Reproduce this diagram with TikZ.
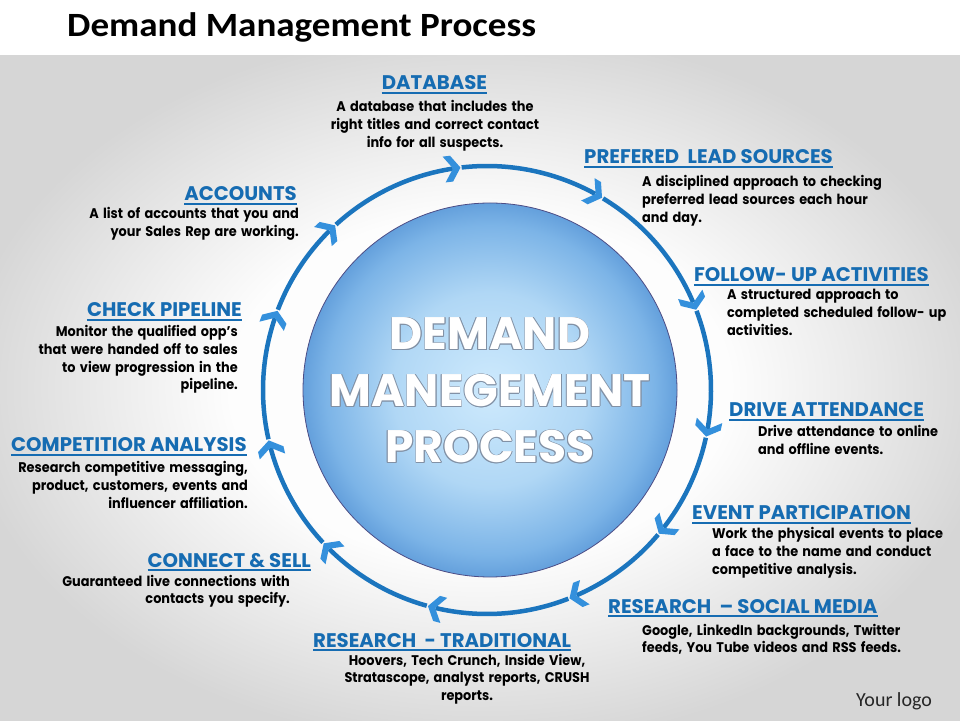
\documentclass[tikz,border=0pt]{standalone}
\usepackage{fontspec}
\setmainfont{Poppins}
\newfontfamily\titlefont{Carlito}
\usetikzlibrary{arrows.meta}
\definecolor{headblue}{RGB}{22,108,178}
\definecolor{ringblue}{RGB}{27,117,190}
\definecolor{chevblue}{RGB}{52,144,220}
\definecolor{bgouter}{RGB}{214,214,214}
\definecolor{bginner}{RGB}{253,253,253}
\definecolor{sphin}{RGB}{206,234,253}
\definecolor{sphmid}{RGB}{176,215,245}
\definecolor{sphedge}{RGB}{124,180,231}
\definecolor{sphrim}{RGB}{100,160,220}
\definecolor{olgray}{RGB}{130,145,165}
\pgfdeclareradialshading{bgshade}{\pgfpoint{0bp}{0bp}}{color(0bp)=(bginner); color(13bp)=(bginner); color(27bp)=(bgouter); color(50bp)=(bgouter)}
\pgfdeclareradialshading{sphshade}{\pgfpoint{0bp}{0bp}}{color(0bp)=(sphin); color(13bp)=(sphmid); color(22bp)=(sphedge); color(25bp)=(sphrim); color(50bp)=(sphrim)}
\newcommand\outl[1]{%
\makebox[0pt][l]{\color{olgray}\kern0.8pt#1}%
\makebox[0pt][l]{\color{olgray}\kern-0.8pt#1}%
\makebox[0pt][l]{\color{olgray}\raisebox{0.8pt}{#1}}%
\makebox[0pt][l]{\color{olgray}\raisebox{-0.8pt}{#1}}%
\makebox[0pt][l]{\color{olgray}\kern0.6pt\raisebox{0.6pt}{#1}}%
\makebox[0pt][l]{\color{olgray}\kern-0.6pt\raisebox{0.6pt}{#1}}%
\makebox[0pt][l]{\color{olgray}\kern0.6pt\raisebox{-0.6pt}{#1}}%
\makebox[0pt][l]{\color{olgray}\kern-0.6pt\raisebox{-0.6pt}{#1}}%
{\color{white}#1}}
\begin{document}
\begin{tikzpicture}[x=1pt,y=1pt,
 head/.style={font=\fontsize{19.7}{22}\selectfont\bfseries, text=headblue, inner sep=0pt},
 body/.style={font=\fontsize{14}{17.6}\selectfont\bfseries, text=black, inner sep=0pt, text width=330pt, xscale=0.92, transform shape},
 bodyl/.style={body, align=left, anchor=base west},
 bodyr/.style={body, align=right, anchor=base east},
 bodyc/.style={body, align=center, anchor=base},
 ul/.style={headblue, line width=1.4pt},
 ringseg/.style={ringblue, line width=4.5pt},
 chevron/.style={fill=chevblue},
 big/.style={font=\fontsize{45.5}{50}\selectfont\bfseries, inner sep=0pt, anchor=base}
]
\useasboundingbox (0,0) rectangle (960,720);
\shade[shading=bgshade] (0,0) rectangle (960,665);
\fill[white] (0,665) rectangle (960,720);
\node[font=\titlefont\fontsize{34}{40}\selectfont\bfseries, inner sep=0pt, anchor=base west, xscale=1.09, transform shape] (title) at (67,683) {Demand Management Process};
\node[font=\titlefont\fontsize{20}{24}\selectfont, inner sep=0pt, anchor=base west, text=black!85] (logo) at (856,14) {Your logo};

% sphere
\coordinate (S) at (490,330);
\shade[shading=sphshade, draw=black!45!blue!40!gray, line width=0.8pt] (S) circle[radius=187];
\node[big] (t1) at (490,370) {\outl{DEMAND}};
\node[big] (t2) at (490,313) {\outl{MANEGEMENT}};
\node[big] (t3) at (490,257) {\outl{PROCESS}};

% ring
\coordinate (R) at (487,330);
\foreach \a/\b in {132.7/96.8, 96.8/59.1, 59.1/21, 21/-12, -12/-39.9, -39.9/-68.4, -68.4/-105.3, -105.3/-136.8, -136.8/-167, 193/159.3, 159.3/132.7}{
  \draw[ringseg] (R) ++(\a-0.3:224) arc[start angle=\a-0.3, end angle=\b+2, radius=224];
  \path (R) ++(\b:224) coordinate (T);
  \fill[chevron, shift={(T)}, rotate=\b-90] (0,0) -- (-9,13) -- (-16.5,13) -- (-7.5,0) -- (-16.5,-13) -- (-9,-13) -- cycle;
}

% headings
\node[head, anchor=base] (h1) at (434.5,630) {DATABASE};
\node[head, anchor=base west] (h2) at (584,556) {PREFERED\ \ LEAD SOURCES};
\node[head, anchor=base west] (h3) at (694,438) {FOLLOW- UP ACTIVITIES};
\node[head, anchor=base west] (h4) at (729,303) {DRIVE ATTENDANCE};
\node[head, anchor=base west] (h5) at (692,200) {EVENT PARTICIPATION};
\node[head, anchor=base west] (h6) at (608,107) {RESEARCH\ \ – SOCIAL MEDIA};
\node[head, anchor=base west] (h7) at (313,73) {RESEARCH\ \ - TRADITIONAL};
\node[head, anchor=base east] (h8) at (311,153) {CONNECT \& SELL};
\node[head, anchor=base west] (h9) at (11,268) {COMPETITIOR ANALYSIS};
\node[head, anchor=base east] (h10) at (242,403) {CHECK PIPELINE};
\node[head, anchor=base east] (h11) at (297,519) {ACCOUNTS};
\foreach \h in {h1,h2,h3,h4,h5,h6,h7,h8,h9,h10,h11}
  \draw[ul] ([yshift=-3pt]\h.base west) -- ([yshift=-3pt]\h.base east);

% bodies
\node[bodyc] (b1) at (435,608) {A database that includes the\\right titles and correct contact\\info for all suspects.};
\node[bodyl] (b2) at (642,533) {A disciplined approach to checking\\preferred lead sources each hour\\and day.};
\node[bodyl] (b3) at (727,420) {A structured approach to\\completed scheduled follow- up\\activities.};
\node[bodyl] (b4) at (758,283) {Drive attendance to online\\and offline events.};
\node[bodyl] (b5) at (712,181) {Work the physical events to place\\a face to the name and conduct\\competitive analysis.};
\node[bodyl] (b6) at (642,85) {Google, LinkedIn backgrounds, Twitter\\feeds, You Tube videos and RSS feeds.};
\node[bodyc] (b7) at (467,55) {Hoovers, Tech Crunch, Inside View,\\Stratascope, analyst reports, CRUSH\\reports.};
\node[bodyr] (b8) at (290,134) {Guaranteed live connections with\\contacts you specify.};
\node[bodyr] (b9) at (248,247) {Research competitive messaging,\\product, customers, events and\\influencer affiliation.};
\node[bodyr] (b10) at (238,383) {Monitor the qualified opp’s\\that were handed off to sales\\to view progression in the\\pipeline.};
\node[bodyr] (b11) at (299,501) {A list of accounts that you and\\your Sales Rep are working.};
\end{tikzpicture}
\end{document}
